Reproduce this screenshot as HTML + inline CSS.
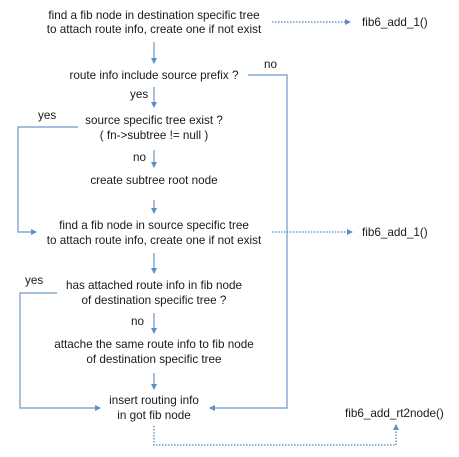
<!DOCTYPE html>
<html><head><style>
html,body{margin:0;padding:0;background:#fff;}
svg{display:block;}
text{font-family:"Liberation Sans",sans-serif;font-size:11.7px;fill:#1a1a1a;}
</style></head><body>
<svg width="459" height="457" viewBox="0 0 459 457" xmlns="http://www.w3.org/2000/svg">
<defs>
<marker id="a" markerWidth="6" markerHeight="6" refX="5" refY="3" orient="auto" markerUnits="userSpaceOnUse">
<path d="M0,0 L6,3 L0,6 z" fill="#5b8fc6"/></marker>
</defs>
<g stroke="#6a9acb" stroke-width="1.2" fill="none">
<line x1="154" y1="42" x2="154" y2="63" marker-end="url(#a)"/>
<line x1="154" y1="87" x2="154" y2="107" marker-end="url(#a)"/>
<line x1="154" y1="150" x2="154" y2="167" marker-end="url(#a)"/>
<line x1="154" y1="200" x2="154" y2="213" marker-end="url(#a)"/>
<line x1="154" y1="253" x2="154" y2="273" marker-end="url(#a)"/>
<line x1="154" y1="313" x2="154" y2="333" marker-end="url(#a)"/>
<line x1="154" y1="373" x2="154" y2="389" marker-end="url(#a)"/>
<polyline points="248,75 287,75 287,408 210,408" marker-end="url(#a)"/>
<polyline points="78,127 18,127 18,232 36,232" marker-end="url(#a)"/>
<polyline points="57,293 20,293 20,408 100,408" marker-end="url(#a)"/>
</g>
<g stroke="#6a9acb" stroke-width="1.5" fill="none" stroke-dasharray="1.5,1.5">
<line x1="272" y1="22" x2="350" y2="22" marker-end="url(#a)"/>
<line x1="272" y1="232" x2="352" y2="232" marker-end="url(#a)"/>
<polyline points="154,426 154,445 396,445 396,425" marker-end="url(#a)"/>
</g>
<g text-anchor="middle">
<text x="154" y="19">find a fib node in destination specific tree</text>
<text x="154" y="33">to attach route info, create one if not exist</text>
<text x="154" y="79">route info include source prefix ?</text>
<text x="154" y="124">source specific tree exist ?</text>
<text x="154" y="139">( fn-&gt;subtree != null )</text>
<text x="154" y="184">create subtree root node</text>
<text x="154" y="229">find a fib node in source specific tree</text>
<text x="154" y="244">to attach route info, create one if not exist</text>
<text x="154" y="289">has attached route info in fib node</text>
<text x="154" y="304">of destination specific tree ?</text>
<text x="154" y="348">attache the same route info to fib node</text>
<text x="154" y="363">of destination specific tree</text>
<text x="154" y="404">insert routing info</text>
<text x="154" y="419">in got fib node</text>
</g>
<text x="362" y="26">fib6_add_1()</text>
<text x="362" y="236">fib6_add_1()</text>
<text x="345" y="417">fib6_add_rt2node()</text>
<text x="264" y="68">no</text>
<text x="130" y="98">yes</text>
<text x="38" y="119">yes</text>
<text x="133" y="161">no</text>
<text x="25" y="284">yes</text>
<text x="131" y="325">no</text>
</svg>
</body></html>
